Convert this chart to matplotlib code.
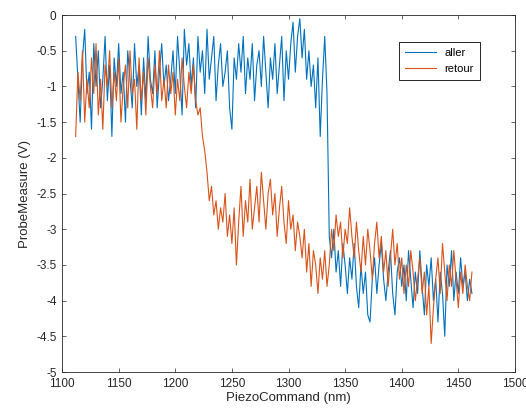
import matplotlib.pyplot as plt
import numpy as np

plt.rcParams['font.family'] = ['Liberation Sans', 'DejaVu Sans']

# piezo command positions (nm), same grid for both sweeps
x_nm = np.arange(1112, 1463, 2)

aller = [
    -0.3, -0.9, -1.5, -0.6, -0.2, -1.1, -0.8, -1.6, -0.4, -1.0,
    -0.5, -1.3, -0.9, -0.3, -1.2, -0.7, -1.7, -0.6, -1.0, -0.4,
    -1.1, -0.8, -1.5, -0.5, -0.9, -1.3, -0.4, -1.0, -0.7, -1.4,
    -0.6, -1.2, -0.3, -0.9, -1.1, -0.5, -1.3, -0.8, -0.4, -1.0,
    -0.7, -1.2, -0.9, -0.5, -1.1, -0.3, -0.8, -1.4, -0.2, -0.7,
    -0.4, -1.0, -0.6, -1.3, -0.3, -0.8, -0.5, -1.1, -0.2, -0.9,
    -0.6, -0.3, -1.2, -0.7, -0.4, -1.0, -0.8, -0.5, -1.3, -1.6,
    -0.6, -0.9, -0.4, -0.8, -0.3, -1.1, -0.6, -0.9, -0.4, -1.2,
    -0.7, -0.5, -1.0, -0.3, -0.8, -1.3, -0.6, -0.9, -0.4, -1.1,
    -0.7, -0.3, -1.2, -0.5, -0.9, -0.4, -0.1, -0.8, -0.3, -0.05,
    -0.6, -0.2, -0.9, -0.5, -1.0, -0.7, -1.3, -0.6, -1.7, -0.9,
    -0.3, -1.1, -3.1, -3.4, -3.0, -3.6, -3.3, -3.8, -3.2, -3.5,
    -3.9, -3.4, -3.7, -3.2, -3.8, -4.1, -3.5, -3.9, -3.6, -4.2,
    -4.3, -3.7, -3.4, -3.9, -3.5, -3.2, -3.7, -4.0, -3.6, -3.3,
    -3.9, -4.2, -3.6, -3.4, -3.8, -3.5, -4.0, -3.3, -3.7, -4.1,
    -3.6, -3.9, -3.3, -3.8, -4.2, -3.5, -3.8, -3.4, -4.0, -3.7,
    -4.3, -3.6, -3.9, -4.5, -3.5, -3.8, -3.3, -4.0, -3.6, -3.9,
    -3.4, -3.8, -3.6, -4.0, -3.7, -3.9,
]

retour = [
    -1.7, -0.8, -1.2, -0.5, -1.5, -0.9, -1.3, -0.6, -1.1, -0.4,
    -1.4, -0.9, -1.6, -0.7, -1.0, -0.5, -1.3, -0.8, -1.2, -0.6,
    -1.5, -1.0, -0.7, -1.3, -0.5, -1.1, -0.9, -1.6, -0.6, -1.2,
    -0.8, -1.4, -0.6, -1.0, -1.3, -0.7, -1.1, -0.5, -1.2, -0.9,
    -1.3, -0.7, -1.1, -0.8, -1.4, -0.9, -1.2, -0.6, -1.0, -1.3,
    -0.8, -1.1, -0.7, -1.2, -1.4, -1.3, -1.7, -1.9, -2.2, -2.6,
    -2.4, -2.8, -2.6, -3.0, -2.7, -2.9, -2.5, -3.1, -2.8, -3.2,
    -2.7, -3.5, -2.9, -2.4, -3.1, -2.6, -2.9, -2.3, -3.0, -2.7,
    -2.4, -2.9, -2.2, -2.6, -3.0, -2.5, -2.3, -2.8, -2.5, -3.1,
    -2.7, -2.4, -2.9, -3.2, -2.6, -3.0, -2.8, -3.3, -2.9, -3.1,
    -3.4, -3.0, -3.6, -3.2, -3.8, -3.3, -3.5, -3.9, -3.4, -3.7,
    -3.3, -3.8, -3.5, -3.0, -3.3, -2.8, -3.1, -2.9, -3.4, -3.0,
    -3.2, -2.7, -3.1, -3.4, -2.9, -3.3, -3.6, -3.1, -3.5, -3.0,
    -3.3, -3.7, -3.2, -2.9, -3.4, -3.1, -3.6, -3.3, -3.8, -3.4,
    -3.0, -3.5, -3.2, -3.7, -3.4, -3.9, -3.5, -3.8, -3.3, -3.6,
    -4.0, -3.7, -3.4, -3.9, -3.6, -4.2, -3.8, -4.6, -4.1, -3.7,
    -3.4, -3.9, -3.2, -3.6, -4.0, -3.5, -3.8, -3.3, -3.7, -4.1,
    -3.6, -3.9, -3.5, -3.8, -4.0, -3.6,
]

xticks = [1100, 1150, 1200, 1250, 1300, 1350, 1400, 1450, 1500]
yticks = [0, -0.5, -1, -1.5, -2, -2.5, -3, -3.5, -4, -4.5, -5]
ytick_labels = ['0', '-0.5', '-1', '-1.5', '-2', '-2.5', '-3', '-3.5', '-4', '-4.5', '-5']

dark = '#262626'

fig = plt.figure(figsize=(5.26, 4.18), dpi=100)
ax = fig.add_axes([0.118, 0.110, 0.861, 0.854])

ax.plot(x_nm, aller, color='#0072BD', lw=0.8, label='aller')
ax.plot(x_nm, retour, color='#D95319', lw=0.8, label='retour')

ax.set_xlim(1100, 1500)
ax.set_ylim(-5, 0)
ax.set_xticks(xticks)
ax.set_yticks(yticks)
ax.set_yticklabels(ytick_labels)
ax.tick_params(direction='in', top=True, right=True, labelsize=8.5,
               colors=dark, length=3, width=0.5, pad=4)
for s in ax.spines.values():
    s.set_color(dark)
    s.set_linewidth(0.6)

ax.set_xlabel('PiezoCommand (nm)', fontsize=9.5, color=dark, labelpad=2)
ax.set_ylabel('ProbeMeasure (V)', fontsize=9.5, color=dark, labelpad=4)

leg = ax.legend(loc='upper right', bbox_to_anchor=(0.934, 0.94), fontsize=8,
                fancybox=False, framealpha=1, edgecolor='black',
                handlelength=2.8, borderpad=0.5, labelspacing=0.6)
leg.get_frame().set_linewidth(0.6)

fig.savefig('out.png', dpi=100)
